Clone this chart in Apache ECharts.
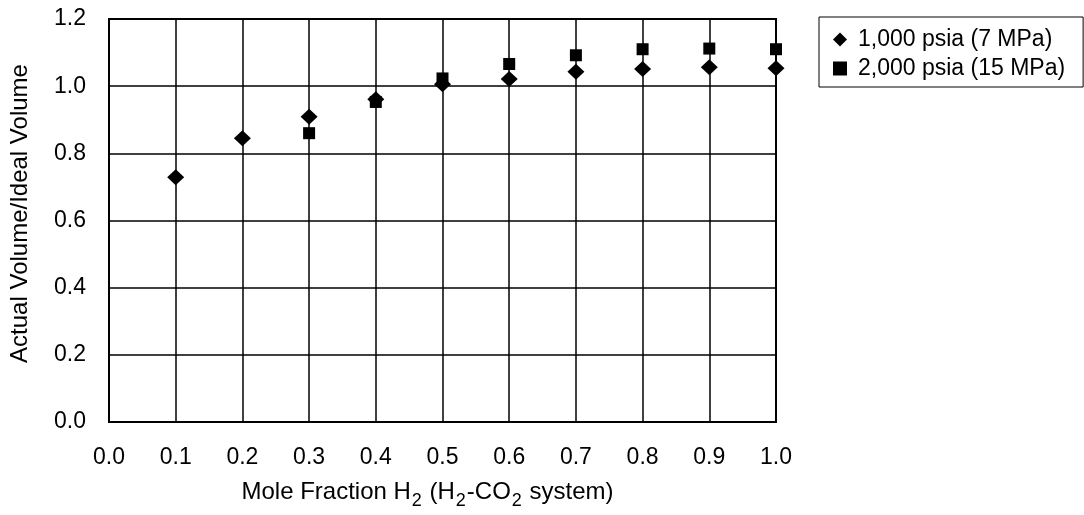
<!DOCTYPE html>
<html>
<head>
<meta charset="utf-8">
<script src="https://cdn.jsdelivr.net/npm/echarts@6/dist/echarts.min.js"></script>
<style>
  html, body { margin: 0; padding: 0; background: #fff; }
  #chart { width: 1084px; height: 515px; }
</style>
</head>
<body>
<div id="chart"></div>
<script>
// mole fraction H2 and volume ratios
const xLow = [0.1, 0.2, 0.3, 0.4, 0.5, 0.6, 0.7, 0.8, 0.9, 1.0];
const yLow = [0.729, 0.845, 0.909, 0.961, 1.006, 1.021, 1.043, 1.051, 1.056, 1.053];
const xHigh = [0.3, 0.4, 0.5, 0.6, 0.7, 0.8, 0.9, 1.0];
const yHigh = [0.860, 0.953, 1.023, 1.066, 1.092, 1.110, 1.112, 1.110];
const seriesNames = ['1,000 psia (7 MPa)', '2,000 psia (15 MPa)'];

const font = "'Liberation Sans', Arial, sans-serif";

const dom = document.getElementById('chart');
const myChart = echarts.init(dom, null, { renderer: 'canvas' });

const option = {
  animation: false,
  backgroundColor: '#fff',
  grid: {
    left: 108,
    top: 19,
    right: 308,
    bottom: 93,
    show: true,
    borderColor: '#000',
    borderWidth: 2
  },
  legend: {
    orient: 'vertical',
    left: 819,
    top: 17,
    padding: [8, 18, 4, 14],
    itemGap: 0,
    itemWidth: 14,
    itemHeight: 14,
    borderColor: '#000',
    borderWidth: 1,
    textStyle: { fontFamily: font, fontSize: 23, lineHeight: 29, color: '#000', padding: [0, 0, 0, 6] },
    data: [
      { name: seriesNames[0], icon: 'diamond' },
      { name: seriesNames[1], icon: 'rect' }
    ]
  },
  xAxis: {
    type: 'value',
    min: 0,
    max: 1,
    interval: 0.1,
    name: '{a|Mole Fraction H}{s|2}{a| (H}{s|2}{a|-CO}{s|2}{a| system)}',
    nameLocation: 'middle',
    nameGap: 58,
    nameTextStyle: {
      padding: [0, 30, 0, 0],
      rich: {
        a: { fontFamily: font, fontSize: 24, color: '#000', lineHeight: 30, verticalAlign: 'top' },
        s: { fontFamily: font, fontSize: 18, color: '#000', lineHeight: 30, verticalAlign: 'top', padding: [12, 1, 0, 1] }
      }
    },
    axisLine: { lineStyle: { color: '#000', width: 2 } },
    axisTick: { show: false },
    axisLabel: {
      margin: 24,
      fontFamily: font,
      fontSize: 23,
      color: '#000',
      formatter: v => v.toFixed(1)
    },
    splitLine: { show: true, lineStyle: { color: '#000', width: 1.5 } }
  },
  yAxis: {
    type: 'value',
    min: 0,
    max: 1.2,
    interval: 0.2,
    name: 'Actual Volume/Ideal Volume',
    nameLocation: 'middle',
    nameGap: 77,
    nameTextStyle: { fontFamily: font, fontSize: 24, color: '#000', padding: [0, 0, 0, 14] },
    axisLine: { lineStyle: { color: '#000', width: 2 } },
    axisTick: { show: false },
    axisLabel: {
      margin: 23,
      fontFamily: font,
      fontSize: 23,
      color: '#000',
      formatter: v => v.toFixed(1)
    },
    splitLine: { show: true, lineStyle: { color: '#000', width: 1.5 } }
  },
  series: [
    {
      name: seriesNames[0],
      type: 'scatter',
      symbol: 'diamond',
      symbolSize: [17, 16],
      itemStyle: { color: '#000', opacity: 1 },
      data: xLow.map((x, i) => [x, yLow[i]])
    },
    {
      name: seriesNames[1],
      type: 'scatter',
      symbol: 'rect',
      symbolSize: 12,
      itemStyle: { color: '#000', opacity: 1 },
      data: xHigh.map((x, i) => [x, yHigh[i]])
    }
  ]
};

myChart.setOption(option);
window.addEventListener('resize', myChart.resize);
</script>
</body>
</html>
